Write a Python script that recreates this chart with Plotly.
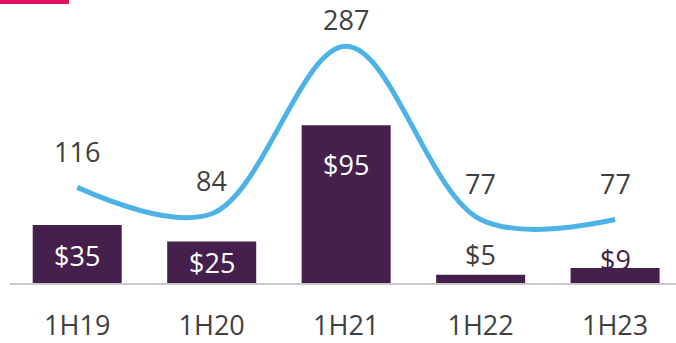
import plotly.graph_objects as go

categories = ["1H19", "1H20", "1H21", "1H22", "1H23"]
bar_values = [35, 25, 95, 5, 9]
line_values = [116, 84, 287, 77, 77]

bar_label_shift = [-31, -21, -39, 20, 9]
bar_label_color = ["#FFFFFF", "#FFFFFF", "#FFFFFF", "#404040", "#46204C"]
line_label_shift = [36, 33, 27, 36, 36]

FONT = "Open Sans"
TXT = "#404040"
FS = 27

fig = go.Figure()
fig.add_trace(go.Bar(
    x=categories, y=bar_values, marker=dict(color="#46204C", line=dict(width=0)),
    hoverinfo="skip", showlegend=False,
))
fig.add_trace(go.Scatter(
    x=categories, y=line_values, yaxis="y2", mode="lines",
    line=dict(color="#4DB3E6", width=5, shape="spline", smoothing=1.0),
    hoverinfo="skip", showlegend=False,
))

ann = []
for c, v, s, col in zip(categories, bar_values, bar_label_shift, bar_label_color):
    ann.append(dict(x=c, y=v, xref="x", yref="y", text=f"${v}", showarrow=False,
                    yshift=s, font=dict(family=FONT, size=FS, color=col)))
for c, v, s in zip(categories, line_values, line_label_shift):
    ann.append(dict(x=c, y=v, xref="x", yref="y2", text=str(v), showarrow=False,
                    yshift=s, font=dict(family=FONT, size=FS, color=TXT)))

fig.update_layout(
    width=676, height=343,
    margin=dict(l=10, r=0, t=0, b=60),
    paper_bgcolor="white", plot_bgcolor="white",
    bargap=0.338,
    font=dict(family=FONT, size=FS, color=TXT),
    xaxis=dict(range=[-0.5, 4.453], showline=True, linecolor="#C8C8C8", linewidth=1.5,
               showgrid=False, zeroline=False, ticks="", ticklabelstandoff=18,
               tickfont=dict(family=FONT, size=FS, color=TXT)),
    yaxis=dict(range=[0, 170.5], visible=False, showgrid=False, zeroline=False),
    yaxis2=dict(range=[0, 343.2], overlaying="y", visible=False, showgrid=False, zeroline=False),
    annotations=ann,
    shapes=[dict(type="rect", xref="paper", yref="paper", x0=-10/666, x1=59/666,
                 y0=1 - 4/283, y1=1.01, fillcolor="#E0125F", line=dict(width=0), layer="above")],
)

fig.write_html("out.html")
